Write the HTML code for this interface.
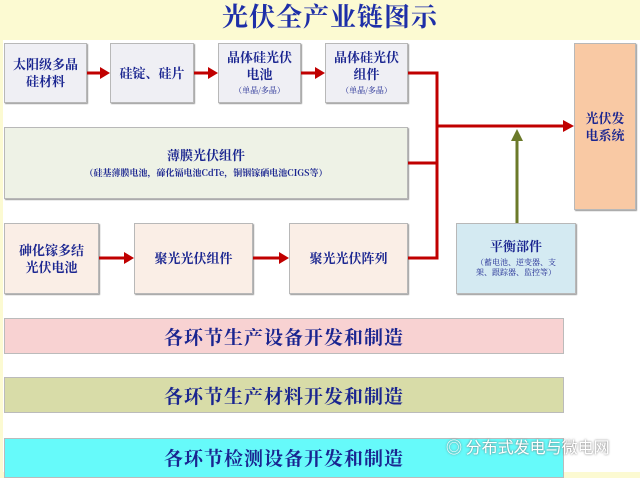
<!DOCTYPE html><html><head><meta charset="utf-8"><style>
body{margin:0;width:640px;height:472px;overflow:hidden;background:#fcfad2;font-family:"Liberation Sans","Noto Sans CJK SC",sans-serif;position:relative}
.a{position:absolute;box-sizing:border-box;border:1px solid #b8b8b8;box-shadow:1px 1px 1px #999;display:flex;flex-direction:column;align-items:center;justify-content:center;text-align:center;color:#1a2590;font-family:"Noto Serif CJK SC","Noto Sans CJK SC",serif;font-weight:bold;line-height:1.3}
.g{background:#efeff4;font-size:13px}
.s{font-size:8px;font-weight:normal;margin-top:3px}
.p{background:#faeee6;font-size:13px}
.bar{position:absolute;left:4px;width:560px;box-sizing:border-box;border:1px solid #bbb;display:flex;align-items:center;justify-content:center;font-size:19px;font-weight:bold;color:#1a2590;font-family:"Noto Serif CJK SC",serif;letter-spacing:1px}
</style></head><body>
<div style="position:absolute;left:3px;top:40px;width:637px;height:432px;background:#fff"></div>
<div style="position:absolute;left:0;top:-3px;width:640px;text-align:center;padding-left:20px;box-sizing:border-box;font-size:26px;font-weight:bold;color:#1e2fa8;font-family:'Noto Serif CJK SC',serif;letter-spacing:1px">光伏全产业链图示</div>
<div class="a g" style="left:4px;top:43px;width:83px;height:60px">太阳级多晶<br>硅材料</div>
<div class="a g" style="left:110px;top:43px;width:84px;height:60px">硅锭、硅片</div>
<div class="a g" style="left:218px;top:43px;width:83px;height:60px">晶体硅光伏<br>电池<div class="s">（单晶/多晶）</div></div>
<div class="a g" style="left:325px;top:43px;width:83px;height:60px">晶体硅光伏<br>组件<div class="s">（单晶/多晶）</div></div>
<div class="a" style="left:4px;top:127px;width:404px;height:72px;background:#eef2e6;font-size:13px">薄膜光伏组件<div class="s" style="font-size:9px;font-weight:bold">（硅基薄膜电池，碲化镉电池CdTe，铜铟镓硒电池CIGS等）</div></div>
<div class="a" style="left:574px;top:43px;width:62px;height:167px;background:#f9c9a4;font-size:13px">光伏发<br>电系统</div>
<div class="a p" style="left:4px;top:223px;width:95px;height:71px">砷化镓多结<br>光伏电池</div>
<div class="a p" style="left:134px;top:223px;width:119px;height:71px">聚光光伏组件</div>
<div class="a p" style="left:289px;top:223px;width:119px;height:71px">聚光光伏阵列</div>
<div class="a" style="left:456px;top:223px;width:120px;height:71px;background:#d4eaf2;font-size:13px">平衡部件<div class="s" style="font-size:8px">（蓄电池、逆变器、支<br>架、跟踪器、监控等）</div></div>
<svg style="position:absolute;left:0;top:0" width="640" height="472">
<g stroke="#c00000" stroke-width="3" fill="none">
<line x1="87" y1="73" x2="102" y2="73"/><line x1="194" y1="73" x2="210" y2="73"/><line x1="301" y1="73" x2="317" y2="73"/>
<polyline points="408,73 437,73 437,258 408,258"/><line x1="408" y1="163" x2="437" y2="163"/>
<line x1="437" y1="126" x2="566" y2="126"/>
<line x1="99" y1="258" x2="126" y2="258"/><line x1="253" y1="258" x2="281" y2="258"/>
</g>
<g fill="#c00000">
<polygon points="110,73 100,67 100,79"/><polygon points="218,73 208,67 208,79"/><polygon points="325,73 315,67 315,79"/>
<polygon points="574,126 563,120 563,132"/><polygon points="134,258 124,252 124,264"/><polygon points="289,258 279,252 279,264"/>
</g>
<line x1="517" y1="223" x2="517" y2="140" stroke="#6b7a2a" stroke-width="3"/>
<polygon points="517,129 511,141 523,141" fill="#6b7a2a"/>
</svg>
<div class="bar" style="top:318px;height:36px;background:#f8d2d2">各环节生产设备开发和制造</div>
<div class="bar" style="top:377px;height:36px;background:#d8dca8">各环节生产材料开发和制造</div>
<div class="bar" style="top:438px;height:40px;background:#66fafa;align-items:flex-start;padding-top:5px">各环节检测设备开发和制造</div>
<div style="position:absolute;left:446px;top:434px;font-size:16px;color:#fff;text-shadow:0 0 2px #666;font-family:'Noto Sans CJK SC',sans-serif">◎ 分布式发电与微电网</div>
</body></html>
